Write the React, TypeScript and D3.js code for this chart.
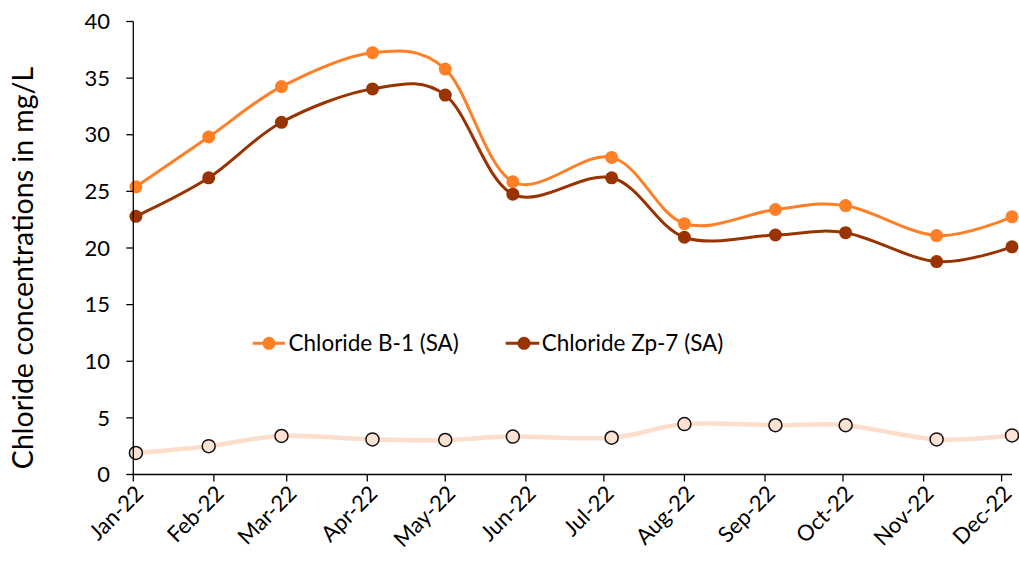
import React from "react";
import * as d3 from "d3";

const sampleDates = ["2022-01-02","2022-01-30","2022-02-27","2022-04-03","2022-05-01","2022-05-27","2022-07-04","2022-08-01","2022-09-05","2022-10-02","2022-11-06","2022-12-05"];
const chlorideB1 = [25.4, 29.8, 34.25, 37.25, 35.8, 25.85, 28.0, 22.15, 23.4, 23.75, 21.1, 22.75];
const chlorideZp7 = [22.8, 26.2, 31.1, 34.05, 33.5, 24.75, 26.2, 20.95, 21.15, 21.35, 18.8, 20.1];
const chlorideOther = [1.9, 2.5, 3.4, 3.1, 3.05, 3.35, 3.25, 4.45, 4.35, 4.35, 3.1, 3.45];
const monthTicks = ["2022-01-01","2022-02-01","2022-03-01","2022-04-01","2022-05-01","2022-06-01","2022-07-01","2022-08-01","2022-09-01","2022-10-01","2022-11-01","2022-12-01"];
const monthLabels = ["Jan-22","Feb-22","Mar-22","Apr-22","May-22","Jun-22","Jul-22","Aug-22","Sep-22","Oct-22","Nov-22","Dec-22"];
const yTicks = [0, 5, 10, 15, 20, 25, 30, 35, 40];
const seriesNames = ["Chloride B-1 (SA)", "Chloride Zp-7 (SA)"];

const W = 1019, H = 566;
const FONT = "Lato, 'Open Sans', sans-serif";

export default function App() {
  const x = d3.scaleUtc().domain([new Date("2022-01-01"), new Date("2022-12-05")]).range([133.3, 1012]);
  const y = d3.scaleLinear().domain([0, 40]).range([474.5, 21.5]);
  const dates = sampleDates.map((s) => new Date(s));
  const line = d3.line<number>()
    .x((_, i) => x(dates[i]))
    .y((v) => y(v))
    .curve(d3.curveCardinal.tension(0));

  const series = [
    { name: seriesNames[0], values: chlorideB1, color: "#FF7F27" },
    { name: seriesNames[1], values: chlorideZp7, color: "#993300" },
  ];

  const x0 = x.range()[0], x1 = x.range()[1];
  const yb = y(0), yt = y(40);

  return (
    <svg width={W} height={H} style={{ position: "absolute", left: 0, top: 0, background: "#fff" }} fontFamily={FONT}>
      {/* third series */}
      <path d={line(chlorideOther) || ""} fill="none" stroke="#FDDDCC" strokeWidth={4.5} />
      {chlorideOther.map((v, i) => (
        <circle key={"o" + i} cx={x(dates[i])} cy={y(v)} r={6.5} fill="#FDE2D3" stroke="#111" strokeWidth={1.5} />
      ))}
      {series.map((s) => (
        <g key={s.name}>
          <path d={line(s.values) || ""} fill="none" stroke={s.color} strokeWidth={3} />
          {s.values.map((v, i) => (
            <circle key={i} cx={x(dates[i])} cy={y(v)} r={6.5} fill={s.color} />
          ))}
        </g>
      ))}
      {/* y axis */}
      <line x1={x0} x2={x0} y1={yt} y2={yb} stroke="#000" strokeWidth={1.3} />
      {yTicks.map((t) => (
        <g key={t}>
          <line x1={x0 - 7} x2={x0} y1={y(t)} y2={y(t)} stroke="#000" strokeWidth={1.3} />
          <text x={110} y={y(t)} dy="0.35em" textAnchor="end" fontSize={22} fill="#000">{t}</text>
        </g>
      ))}
      {/* x axis */}
      <line x1={x0} x2={x1} y1={yb} y2={yb} stroke="#000" strokeWidth={1.3} />
      {monthTicks.map((m, i) => {
        const tx = x(new Date(m));
        return (
          <g key={m}>
            <line x1={tx} x2={tx} y1={yb} y2={yb + 7} stroke="#000" strokeWidth={1.3} />
            <text transform={`translate(${tx + 6},${yb + 15}) rotate(-45)`} textAnchor="end" dy="0.35em" fontSize={22} fill="#000">{monthLabels[i]}</text>
          </g>
        );
      })}
      {/* y title */}
      <text transform={`translate(33,${(yt + yb) / 2 + 20}) rotate(-90)`} textAnchor="middle" fontSize={28.5} fill="#000">Chloride concentrations in mg/L</text>
      {/* legend */}
      <g>
        <line x1={252.7} x2={285} y1={343.3} y2={343.3} stroke={series[0].color} strokeWidth={3} />
        <circle cx={269} cy={343.3} r={6.5} fill={series[0].color} />
        <text x={288.5} y={343.3} dy="0.35em" fontSize={22.5} fill="#000">{series[0].name}</text>
        <line x1={505.7} x2={539.3} y1={343.3} y2={343.3} stroke={series[1].color} strokeWidth={3} />
        <circle cx={524} cy={343.3} r={6.5} fill={series[1].color} />
        <text x={541.7} y={343.3} dy="0.35em" fontSize={22.5} fill="#000">{series[1].name}</text>
      </g>
    </svg>
  );
}
